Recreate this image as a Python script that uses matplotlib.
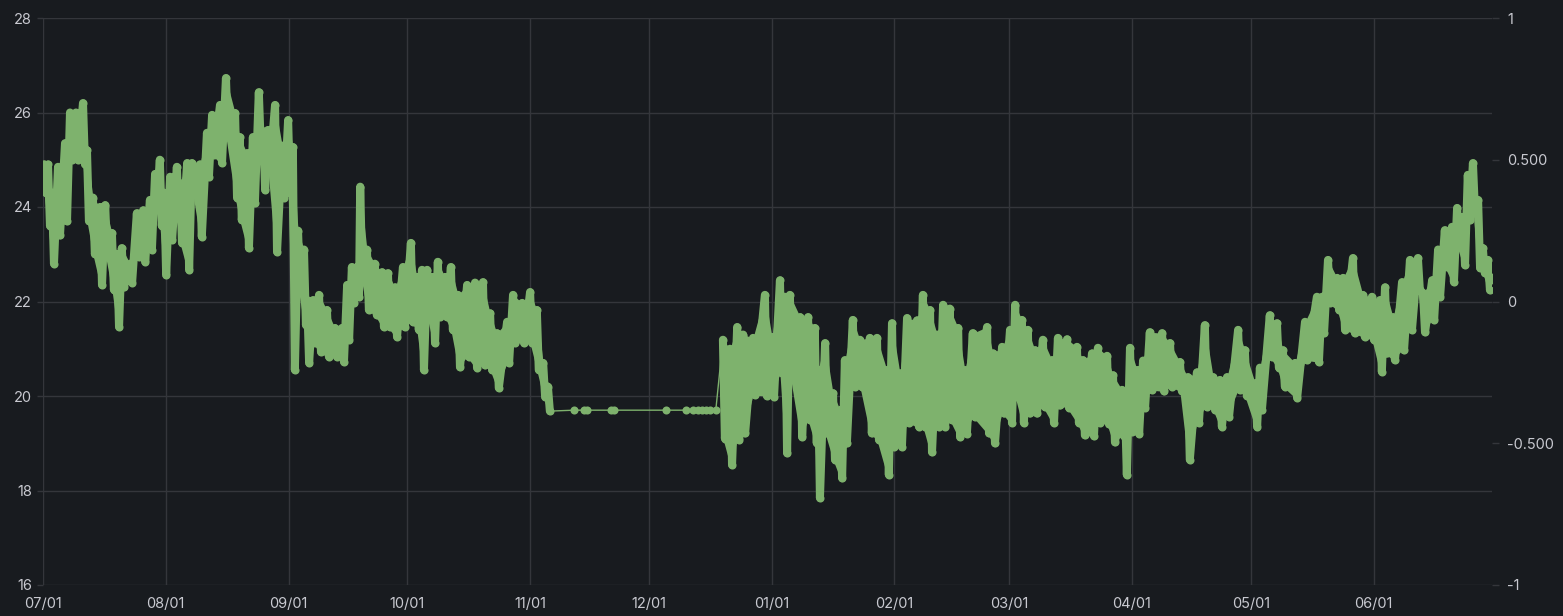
import numpy as np
import pandas as pd
import matplotlib
matplotlib.use("Agg")
import matplotlib.pyplot as plt
import matplotlib.dates as mdates

# days since 2023-07-01, upper / lower envelope of the reading (degrees)
seg1_days = [0.25, 1.26, 2.27, 3.79, 5.56, 6.82, 8.33, 10.1, 11.1, 12.6, 14.4, 15.7, 17.4, 18.7, 19.9,
             22.0, 23.7, 25.3, 27.0, 28.3, 29.5, 30.6, 32.1, 33.8, 34.6, 36.4, 37.6, 39.6, 41.4, 42.7,
             44.7, 46.2, 48.5, 49.7, 51.5, 53.0, 54.5, 55.6, 56.8, 58.6, 60.4, 61.9, 63.1, 64.4, 65.9,
             66.7, 68.2, 69.7, 71.7, 73.7, 75.5, 76.8, 78.0, 79.3, 80.1, 81.8, 83.8, 85.6, 87.1, 88.9,
             90.9, 92.9, 94.4, 95.7, 97.0, 98.5, 99.7, 101.5, 103.0, 104.8, 107.1, 109.1, 111.1, 112.9,
             114.6, 117.2, 118.7, 121.0, 123.0, 124.7, 126.3, 127.5]
seg1_hi = [24.9, 24.9, 24.3, 24.85, 25.35, 26.0, 26.0, 26.2, 25.2, 24.2, 24.0, 24.04, 23.45, 23.0, 23.13,
           22.8, 23.87, 23.93, 24.15, 24.7, 25.0, 24.3, 24.64, 24.85, 24.5, 24.93, 24.93, 24.9, 25.57, 25.95,
           26.16, 26.73, 25.99, 25.48, 25.14, 25.48, 26.43, 25.6, 25.63, 26.16, 25.3, 25.84, 25.27, 23.5, 23.1,
           22.03, 22.03, 22.14, 21.82, 21.44, 21.44, 22.35, 22.73, 22.73, 24.43, 23.1, 22.8, 22.62, 22.6, 22.3,
           22.73, 23.24, 22.52, 22.67, 22.67, 22.52, 22.84, 22.52, 22.73, 22.14, 22.35, 22.4, 22.41, 21.75,
           21.33, 21.57, 22.14, 21.97, 22.2, 21.82, 20.7, 20.2]
seg1_lo = [24.3, 23.6, 22.8, 23.4, 23.7, 25.0, 25.0, 24.9, 23.7, 23.0, 22.35, 23.0, 22.25, 21.46, 22.3,
           22.4, 22.95, 22.84, 23.1, 24.15, 23.6, 22.56, 23.3, 23.8, 23.24, 22.67, 24.4, 23.37, 24.64, 25.1,
           24.93, 25.48, 24.2, 23.72, 23.13, 24.08, 25.27, 24.36, 24.8, 23.05, 24.2, 24.3, 20.55, 22.3, 21.5,
           20.7, 21.12, 20.93, 20.83, 20.83, 20.72, 21.19, 21.97, 22.1, 22.6, 21.82, 21.71, 21.46, 21.46, 21.25,
           21.46, 21.57, 21.4, 20.55, 21.67, 21.12, 21.67, 21.67, 21.4, 20.61, 20.83, 20.6, 20.65, 20.55,
           20.17, 20.7, 21.12, 21.12, 21.12, 20.55, 19.98, 19.68]

# sparse readings while the sensor was mostly idle
gap_days = [134.1, 136.6, 137.4, 143.4, 144.2, 157.3, 162.4, 164.1, 165.4, 166.4, 167.4, 168.4, 169.9]
gap_vals = [19.7, 19.7, 19.7, 19.7, 19.7, 19.7, 19.7, 19.7, 19.7, 19.7, 19.7, 19.7, 19.7]

seg2_days = [171.7, 173.5, 175.3, 176.8, 179.3, 182.3, 184.1, 186.1, 187.4, 188.6, 191.2, 193.2, 194.9,
             195.7, 197.5, 199.5, 201.3, 202.5, 204.5, 206.3, 208.8, 210.6, 213.1, 214.4, 216.4, 218.2,
             220.7, 222.2, 224.0, 225.8, 227.3, 229.0, 231.1, 232.8, 234.8, 238.4, 239.9, 242.2, 244.2,
             245.5, 247.2, 248.7, 250.5, 252.5, 254.8, 256.3, 258.6, 261.1, 262.6, 264.9, 266.4, 268.7,
             270.2, 272.5, 273.2, 274.5, 276.3, 277.8, 279.5, 282.6, 284.6, 287.1, 289.1, 291.4, 293.4,
             295.5, 297.2, 299.0, 301.8, 303.5, 306.1, 307.3, 309.8, 311.6, 313.1, 316.2, 318.7, 321.7,
             323.0, 324.5, 326.8, 328.3, 330.8, 333.3, 335.6, 337.6, 338.9, 340.9, 343.2, 345.2, 347.2,
             348.5, 350.8, 352.3, 354.0, 355.8, 357.1, 358.6, 359.8, 361.1, 362.4, 363.6, 364.9, 365.6]
seg2_hi = [21.19, 21.0, 21.46, 21.3, 21.23, 22.14, 21.25, 22.45, 22.1, 22.14, 21.67, 21.67, 21.44,
           20.55, 21.12, 20.06, 19.7, 20.76, 21.61, 21.19, 21.23, 21.23, 20.55, 21.54, 20.48, 21.65,
           21.6, 22.14, 21.82, 21.3, 21.93, 21.85, 21.44, 20.55, 21.33, 21.46, 20.9, 21.04, 21.4,
           21.93, 21.61, 21.4, 20.97, 21.19, 20.76, 21.23, 21.2, 21.04, 20.76, 20.9, 21.02, 20.85,
           20.44, 20.13, 19.9, 21.02, 20.55, 20.75, 21.35, 21.33, 21.12, 20.72, 20.4, 20.5, 21.5,
           20.4, 20.34, 20.4, 21.4, 20.97, 20.27, 20.6, 21.71, 21.54, 20.97, 20.7, 21.57, 22.1,
           22.1, 22.88, 22.5, 22.5, 22.92, 22.14, 22.1, 22.03, 22.3, 21.67, 22.41, 22.88, 22.92,
           22.18, 22.45, 23.1, 23.51, 23.58, 23.98, 23.79, 24.68, 24.93, 24.15, 23.13, 22.88, 22.52]
seg2_lo = [19.1, 18.54, 19.07, 19.21, 20.02, 20.0, 19.98, 20.48, 18.79, 20.48, 19.13, 19.49, 19.0,
           17.84, 19.21, 18.65, 18.26, 19.0, 20.2, 20.2, 19.21, 19.07, 18.33, 18.92, 18.92, 19.43,
           19.35, 19.35, 18.81, 19.35, 19.35, 19.49, 19.13, 19.2, 19.56, 19.21, 19.0, 19.63, 19.43,
           19.98, 19.43, 19.63, 19.63, 19.77, 19.43, 19.8, 19.75, 19.43, 19.17, 19.15, 19.43, 19.4,
           19.02, 19.15, 18.33, 19.24, 19.2, 19.75, 20.13, 20.1, 20.2, 20.1, 18.65, 19.43, 19.77,
           19.7, 19.35, 19.56, 20.13, 20.0, 19.35, 19.7, 20.83, 20.6, 20.2, 19.96, 20.76, 20.72,
           21.33, 21.97, 21.82, 21.4, 21.33, 21.25, 21.19, 20.51, 20.9, 20.76, 20.97, 21.4, 22.24,
           21.35, 21.61, 22.1, 22.73, 22.41, 23.16, 22.77, 23.72, 23.93, 22.71, 22.6, 22.24, 22.45]

left_ticks = [16, 18, 20, 22, 24, 26, 28]
right_ticks = [-1, -0.5, 0, 0.5, 1]
right_labels = ["-1", "-0.500", "0", "0.500", "1"]

BG = "#181b1f"
GRID = "#34363b"
TEXT = "#c8c9d0"
GREEN = "#7eb26d"

start = pd.Timestamp("2023-07-01")


def to_dates(days):
    return start + pd.to_timedelta(days, unit="D")


def zigzag(days, hi, lo):
    # hourly data swings between the two envelopes, draw it as a dense zigzag
    t, v = [], []
    for d, h, l in zip(days, hi, lo):
        t += [d, d + 0.5]
        v += [h, l]
    return to_dates(t), np.array(v)


t1, v1 = zigzag(seg1_days, seg1_hi, seg1_lo)
t2, v2 = zigzag(seg2_days, seg2_hi, seg2_lo)
tg = to_dates(gap_days)

t_all = t1.append(tg).append(t2)
v_all = np.concatenate([v1, gap_vals, v2])

plt.rcParams['font.family'] = ['Inter', 'DejaVu Sans']

fig = plt.figure(figsize=(15.63, 6.16), dpi=100, facecolor=BG)
ax = fig.add_axes([43 / 1563, 1 - 585 / 616, (1492 - 43) / 1563, (585 - 18) / 616])
ax.set_facecolor(BG)

# solid band between envelopes, then the thick trace for rounded edges
for days, hi, lo in [(seg1_days, seg1_hi, seg1_lo), (seg2_days, seg2_hi, seg2_lo)]:
    ax.fill_between(to_dates(days), lo, hi, color=GREEN, lw=0, zorder=2)
ax.plot(t1, v1, color=GREEN, lw=5.8, solid_joinstyle="round", solid_capstyle="round", zorder=3)
ax.plot(t2, v2, color=GREEN, lw=5.8, solid_joinstyle="round", solid_capstyle="round", zorder=3)
ax.plot(t_all, v_all, color=GREEN, lw=1, marker="o", ms=5.8, mew=0, zorder=4)

ax.set_ylim(16, 28)
ax.set_yticks(left_ticks)
ax.set_xlim(start, pd.Timestamp("2024-06-30 22:00"))
ax.xaxis.set_major_locator(mdates.MonthLocator())
ax.xaxis.set_major_formatter(mdates.DateFormatter("%m/%d"))

ax.grid(True, color=GRID, lw=1)
ax.set_axisbelow(True)
for s in ax.spines.values():
    s.set_visible(False)
ax.tick_params(axis="y", colors=GRID, labelcolor=TEXT, labelsize=10.5, length=4, width=1, pad=4)
ax.tick_params(axis="x", colors=GRID, labelcolor=TEXT, labelsize=10.5, length=0, pad=9)

ax2 = ax.twinx()
ax2.set_ylim(-1, 1)
ax2.set_yticks(right_ticks)
ax2.set_yticklabels(right_labels)
for s in ax2.spines.values():
    s.set_visible(False)
ax2.tick_params(axis="y", colors=GRID, labelcolor=TEXT, labelsize=10.5, length=5, width=1, pad=6)

fig.savefig("out.png", dpi=100, facecolor=BG)
